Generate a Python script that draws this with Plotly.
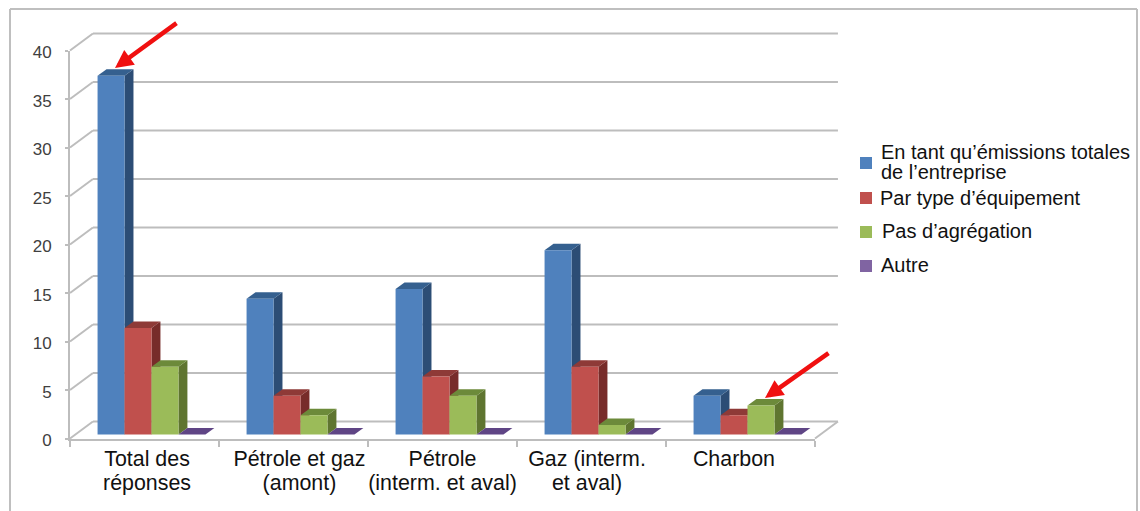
import plotly.graph_objects as go

CATEGORIES = ["Total des<br>réponses", "Pétrole et gaz<br>(amont)", "Pétrole<br>(interm. et aval)",
              "Gaz (interm.<br>et aval)", "Charbon"]
LABEL_POSITIONS = [0.517, 1.54, 2.5, 3.47, 4.456]
SERIES_NAMES = ["En tant qu’émissions totales de l’entreprise", "Par type d’équipement",
                "Pas d’agrégation", "Autre"]
TOTAL_EMISSIONS = [37, 14, 15, 19, 4]
BY_EQUIPMENT = [11, 4, 6, 7, 2]
NO_AGGREGATION = [7, 2, 4, 1, 3]
OTHER = [0, 0, 0, 0, 0]
Y_TICKS = [0, 5, 10, 15, 20, 25, 30, 35, 40]

FRONT = ["#4F81BD", "#C0504D", "#9BBB59", "#8064A2"]
SIDE = ["#2C4D75", "#772C2A", "#5F7530", "#4D3B62"]
TOP = ["#35608F", "#8E3A37", "#6C8A3A", "#5F4585"]
GRID = "#BDBDBD"

W, H = 1140, 511
X_LEFT, X_RIGHT = 70, 815
Y_ZERO, Y_FORTY = 438.5, 50.5
dom_x = [X_LEFT / W, X_RIGHT / W]
dom_y = [1 - Y_ZERO / H, 1 - Y_FORTY / H]

# oblique projection offsets, in axis units
BAR_W = 0.181
GROUP_START = 0.185
BAR_BASE = 0.4
BAR_DX, BAR_DY = 0.06, 0.67
WALL_DX, WALL_DY = 0.154, 1.75


def px(c):
    return dom_x[0] + c / 5 * (dom_x[1] - dom_x[0])


def py(v):
    return dom_y[0] + v / 40 * (dom_y[1] - dom_y[0])


def paper_line(x0, y0, x1, y1, color=GRID, width=2):
    return dict(type="line", xref="paper", yref="paper", layer="below",
                x0=x0, y0=y0, x1=x1, y1=y1, line=dict(color=color, width=width))


shapes = []

# chart frame
for a, b, c, d in [(10, 9, 1137, 9), (10, 9, 10, H), (1137, 9, 1137, H)]:
    shapes.append(paper_line(a / W, 1 - b / H, c / W, 1 - d / H, "#BFBFBF", 2))

# back wall gridlines with their slanted returns on the side wall
for t in Y_TICKS:
    shapes.append(paper_line(px(0), py(t), px(WALL_DX), py(t + WALL_DY)))
    shapes.append(paper_line(px(WALL_DX), py(t + WALL_DY), px(5 + WALL_DX), py(t + WALL_DY)))
# floor edge on the right
shapes.append(paper_line(px(5), py(0), px(5 + WALL_DX), py(WALL_DY)))

ALL_SERIES = [TOTAL_EMISSIONS, BY_EQUIPMENT, NO_AGGREGATION, OTHER]

fig = go.Figure()
for s, (name, values) in enumerate(zip(SERIES_NAMES, ALL_SERIES)):
    lefts = [g + GROUP_START + s * BAR_W for g in range(len(values))]
    centers = [l + BAR_W / 2 for l in lefts]
    fig.add_trace(go.Bar(x=centers, y=values, base=BAR_BASE, width=BAR_W, name=name,
                         marker=dict(color=FRONT[s], line=dict(width=0)),
                         cliponaxis=False, showlegend=False))
    # side and top faces sit beneath the front faces
    for l, v in zip(lefts, values):
        r = l + BAR_W
        low, high = BAR_BASE, BAR_BASE + v
        if v > 0:
            side = (f"M{r},{low} L{r + BAR_DX},{low + BAR_DY} "
                    f"L{r + BAR_DX},{high + BAR_DY} L{r},{high} Z")
            shapes.append(dict(type="path", xref="x", yref="y", layer="below", path=side,
                               fillcolor=SIDE[s], line=dict(width=0)))
        top = (f"M{l},{high} L{l + BAR_DX},{high + BAR_DY} "
               f"L{r + BAR_DX},{high + BAR_DY} L{r},{high} Z")
        shapes.append(dict(type="path", xref="x", yref="y", layer="below", path=top,
                           fillcolor=TOP[s], line=dict(width=0)))

# hand-placed legend
SWATCH_Y = [163, 198, 232, 266]
for color, y in zip(FRONT, SWATCH_Y):
    shapes.append(dict(type="rect", xref="paper", yref="paper", x0=860 / W, x1=872 / W,
                       y0=1 - (y + 6) / H, y1=1 - (y - 6) / H, fillcolor=color, line=dict(width=0)))

LEGEND_LINES = [("En tant qu’émissions totales", 880, 152.5), ("de l’entreprise", 880, 172),
                ("Par type d’équipement", 879, 198), ("Pas d’agrégation", 881, 231), ("Autre", 880, 265)]
annotations = [dict(text=t, x=x / W, y=1 - y / H, xref="paper", yref="paper", xanchor="left",
                    yanchor="middle", showarrow=False, borderpad=0,
                    font=dict(family="Liberation Sans", size=20, color="#111111"))
               for t, x, y in LEGEND_LINES]

# red callouts pointing at the bar tops
for tip_x, tip_y, tail_x, tail_y in [(115, 68, 178, 22), (765, 398, 830, 352)]:
    annotations.append(dict(text="", x=tip_x / W, y=1 - tip_y / H, xref="paper", yref="paper",
                            ax=tail_x - tip_x, ay=tail_y - tip_y, axref="pixel", ayref="pixel",
                            showarrow=True, arrowhead=2, arrowsize=0.8, arrowwidth=4.5,
                            arrowcolor="#F01010", standoff=0))

big = '<span style="font-size:21.4px">'
tick_labels = [big + c.replace("<br>", "</span><br>" + big) + "</span>" for c in CATEGORIES]

fig.update_layout(
    width=W, height=H, margin=dict(l=0, r=0, t=0, b=0, autoexpand=False),
    paper_bgcolor="white", plot_bgcolor="rgba(0,0,0,0)",
    barmode="overlay", showlegend=False,
    shapes=shapes, annotations=annotations,
    font=dict(family="Liberation Sans"),
    xaxis=dict(domain=dom_x, range=[0, 5], showgrid=False, zeroline=False, showline=True,
               linecolor=GRID, linewidth=2, tickmode="array", tickvals=LABEL_POSITIONS,
               ticktext=tick_labels, ticks="outside", ticklen=3, tickcolor="rgba(0,0,0,0)",
               tickangle=0, tickfont=dict(size=18.5, color="#111111"),
               minor=dict(tickmode="array", tickvals=[0, 1, 2, 3, 4, 5], ticks="outside",
                          ticklen=6, tickwidth=1.5, tickcolor=GRID)),
    yaxis=dict(domain=dom_y, range=[0, 40], showgrid=False, zeroline=False, showline=True,
               linecolor=GRID, linewidth=2, tickmode="array", tickvals=Y_TICKS,
               ticks="outside", ticklen=3, tickwidth=1.5, tickcolor=GRID, ticklabelstandoff=10,
               ticklabelshift=2,
               tickfont=dict(size=17, color="#404040", family="Liberation Sans")),
)

fig.write_html("out.html")
